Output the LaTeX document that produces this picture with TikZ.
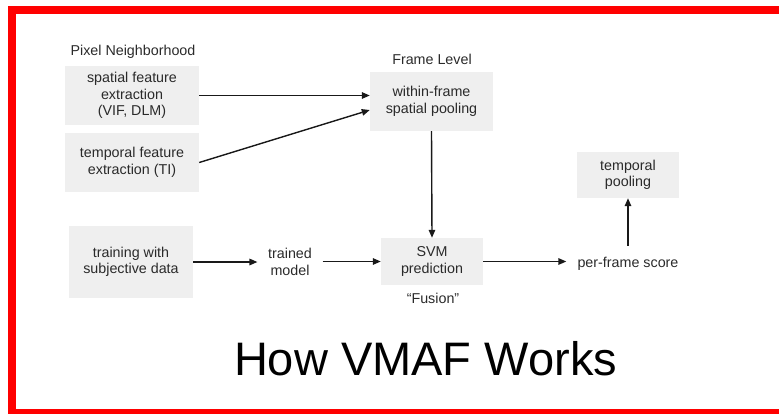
\documentclass[tikz,border=0pt]{standalone}
\usepackage{fontspec}
\setmainfont{Liberation Sans}
\usetikzlibrary{arrows.meta}
\definecolor{boxgray}{HTML}{EFEFEF}
\definecolor{txt}{HTML}{2A2A2A}
\definecolor{frame}{HTML}{FF0000}
\tikzset{
  boxnode/.style={fill=boxgray, draw=none, align=center, inner sep=0pt, text=txt,
    font=\fontsize{14.3}{16.5}\selectfont},
  lbl/.style={align=center, text=txt, font=\fontsize{14.3}{16.5}\selectfont},
  arr/.style={draw=black!90, line width=1.4pt, -{Triangle[length=8pt,width=6.5pt]}}
}
\begin{document}
\begin{tikzpicture}[x=1pt,y=-1pt]
\useasboundingbox (0,0) rectangle (779,413);
\begin{scope}
\clip (0,0) rectangle (779,413);
\draw[frame, line width=8.5pt] (12,10.2) -- (800,10.2);
\draw[frame, line width=8.5pt] (12,6) -- (12,420);
\draw[frame, line width=8.5pt] (8,413.5) -- (800,413.5);
\end{scope}

\node[lbl] (pixlab) at (133,52) {Pixel Neighborhood};
\node[lbl] (framelab) at (432,59) {Frame Level};

\node[boxnode, minimum width=134pt, minimum height=59pt] (spatial) at (132,95.5)
  {spatial feature\\extraction\\(VIF, DLM)};
\node[boxnode, minimum width=134pt, minimum height=59pt] (temporal) at (132,162.5)
  {temporal feature\\extraction (TI)};
\node[boxnode, minimum width=123pt, minimum height=59pt] (within) at (431.5,101.5)
  {within-frame\\spatial pooling};
\node[boxnode, minimum width=102pt, minimum height=46pt] (tpool) at (628,175)
  {temporal\\pooling};
\node[boxnode, minimum width=124pt, minimum height=72pt] (training) at (131,262)
  {training with\\subjective data};
\node[boxnode, minimum width=102pt, minimum height=47pt] (svm) at (432,261.5)
  {SVM\\prediction};
\node[lbl, inner xsep=10.5pt] (trained) at (290,262) {trained\\model};
\node[lbl, anchor=base, inner sep=11pt] (perframe) at (628,267.5) {per-frame score};
\node[lbl] (fusion) at (433,298) {“Fusion”};

\node[anchor=base, text=black, font=\fontsize{47}{50}\selectfont] (title) at (425.5,375) {How VMAF Works};

\draw[arr] (spatial.east) -- (spatial.east -| within.west);
\draw[arr] (temporal.east) -- ([yshift=-8.5pt]within.west);
\draw[arr] (within.south) -- (svm.north);
\draw[arr] (training.east) -- (trained.west |- training.east);
\draw[arr] (trained.east |- svm.west) -- (svm.west);
\draw[arr] (svm.east) -- (perframe.west |- svm.east);
\draw[arr] (perframe.north) -- (tpool.south);
\end{tikzpicture}
\end{document}
